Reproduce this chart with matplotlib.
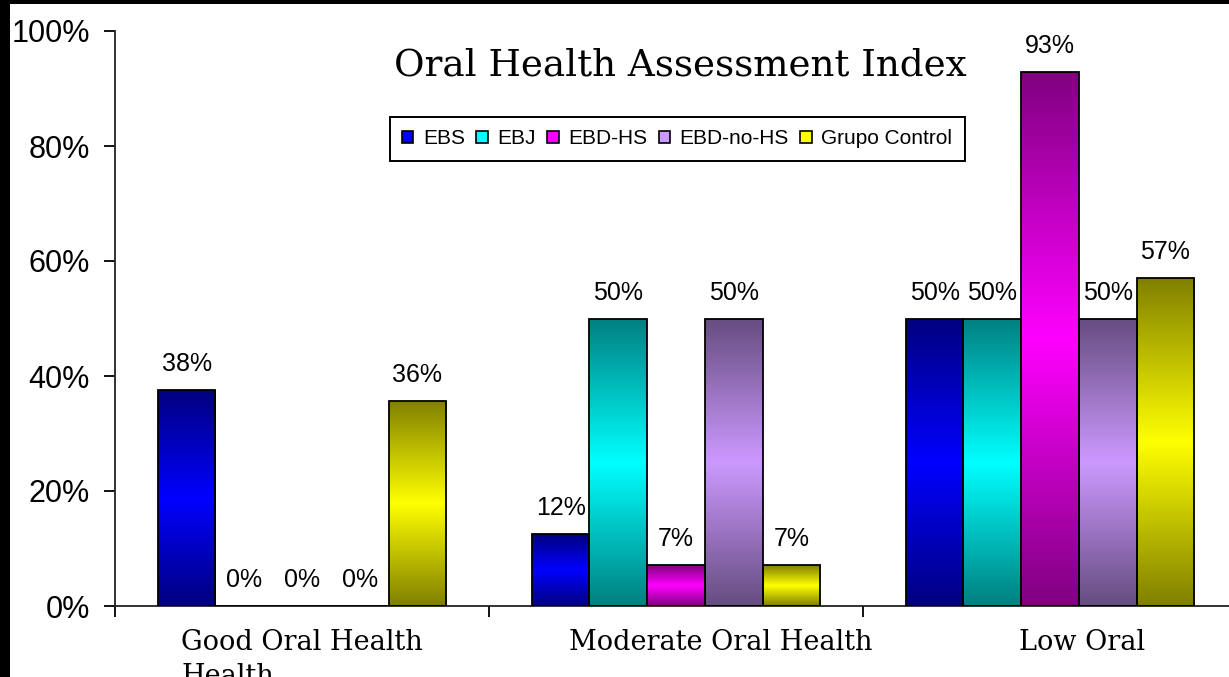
import numpy as np
import matplotlib.pyplot as plt
from matplotlib.patches import Rectangle, Patch

categories = ['Good Oral Health\nHealth', 'Moderate Oral Health', 'Low Oral']
series = ['EBS', 'EBJ', 'EBD-HS', 'EBD-no-HS', 'Grupo Control']
ebs = [37.5, 12.5, 50.0]
ebj = [0.0, 50.0, 50.0]
ebd_hs = [0.0, 7.1, 92.9]
ebd_no_hs = [0.0, 50.0, 50.0]
control = [35.7, 7.1, 57.1]
values = [ebs, ebj, ebd_hs, ebd_no_hs, control]

bright = ['#0000ff', '#00ffff', '#ff00ff', '#cc99ff', '#ffff00']

SANS = 'Liberation Sans'
SERIF = 'DejaVu Serif'

fig = plt.figure(figsize=(12.29, 6.77), dpi=100)
fig.patch.set_facecolor('black')
# white canvas with a thin black frame on the left and top
fig.add_artist(Rectangle((10 / 1229, 0), 1, 1 - 4 / 677, transform=fig.transFigure,
                         facecolor='white', edgecolor='none', zorder=-10))

ax = fig.add_axes([115 / 1229, 1 - 606 / 677, 1122 / 1229, 575 / 677])
ax.set_facecolor('none')

n = len(series)
w = 0.1543
x = np.arange(len(categories))

# vertical gradient: dark at the ends, bright in the middle
t = np.linspace(0, 1, 256)
f = 1 - np.abs(2 * t - 1)

for i, (name, vals, col) in enumerate(zip(series, values, bright)):
    c = np.array(plt.matplotlib.colors.to_rgb(col))
    dark = c * 0.5
    grad = dark[None, :] + (c - dark)[None, :] * f[:, None]
    img = grad[:, None, :]
    pos = x + (i - (n - 1) / 2) * w
    bars = ax.bar(pos, vals, width=w, facecolor='none', edgecolor='black',
                  linewidth=1.3, zorder=3)
    for b, v in zip(bars, vals):
        if v <= 0:
            continue
        im = ax.imshow(img, extent=[b.get_x(), b.get_x() + w, 0, v],
                       aspect='auto', origin='lower', zorder=2, interpolation='bilinear')
        im.set_clip_path(b)
    for p, v in zip(pos, vals):
        ax.annotate(f'{v:.0f}%', (p, v), xytext=(0, 10), textcoords='offset points',
                    ha='center', va='bottom', fontsize=18, family=SANS, zorder=5)

ax.set_xlim(-0.5, 2.5)
ax.set_ylim(0, 100)
ax.set_yticks([0, 20, 40, 60, 80, 100])
ax.set_yticklabels([f'{v}%' for v in [0, 20, 40, 60, 80, 100]], family=SANS, fontsize=22)
ax.set_xticks([-0.5, 0.5, 1.5, 2.5])
ax.set_xticklabels([])
ax.tick_params(axis='y', direction='out', length=8, width=1.3, pad=10)
ax.tick_params(axis='x', direction='out', length=8, width=1.3)
for s in ['top', 'right']:
    ax.spines[s].set_visible(False)
for s in ['left', 'bottom']:
    ax.spines[s].set_linewidth(1.3)
    ax.spines[s].set_color('#222222')

label_x = [0.0, 1.12, 2.086]
for lx, lab in zip(label_x, categories):
    ax.text(lx, -0.04, lab, transform=ax.get_xaxis_transform(), ha='center', va='top',
            multialignment='left', fontsize=19.5, family=SERIF, linespacing=1.35)

fig.text(680 / 1229, 1 - 65 / 677, 'Oral Health Assessment Index', ha='center', va='center',
         fontsize=26.8, family=SERIF)

handles = [Patch(facecolor=c, edgecolor='black', linewidth=1.2) for c in bright]
leg = fig.legend(handles, series, loc='center', bbox_to_anchor=(677 / 1229, 1 - 139 / 677),
                 ncol=5, fancybox=False, framealpha=1, edgecolor='black',
                 prop={'family': SANS, 'size': 15}, handlelength=0.55, handleheight=0.55,
                 handletextpad=0.45, columnspacing=0.55, borderpad=0.6, borderaxespad=0)
leg.get_frame().set_linewidth(1.4)

fig.savefig('out.png', dpi=100, facecolor=fig.get_facecolor())
